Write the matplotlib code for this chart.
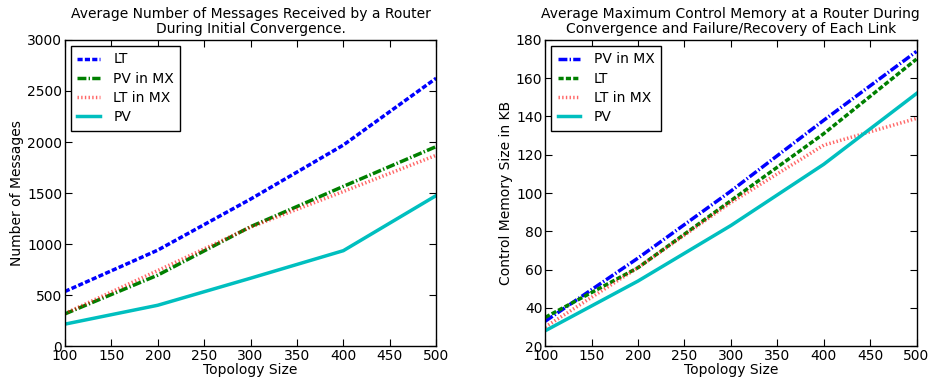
import matplotlib
matplotlib.use('Agg')
import matplotlib.pyplot as plt

# topology sizes
sizes = [100, 200, 300, 400, 500]

# left: messages received during initial convergence
msg_lt = [535, 940, 1440, 1970, 2625]
msg_pv_mx = [315, 695, 1170, 1565, 1955]
msg_lt_mx = [320, 740, 1165, 1515, 1870]
msg_pv = [215, 400, 665, 935, 1475]

# right: control memory (KB)
mem_pv_mx = [33, 66, 101, 138, 174]
mem_lt = [35, 61, 96, 131, 170]
mem_lt_mx = [30, 61, 95, 125, 139]
mem_pv = [28, 54, 83, 115, 152]

FS = 10


def StyleAxes(ax):
    """ ticks a l'interieur, sur les quatre cotes """
    ax.tick_params(direction='in', top=True, right=True, length=5, labelsize=FS, pad=2)
    for s in ax.spines.values():
        s.set_linewidth(1.0)


def MakeLegend(ax):
    """ legende en haut a gauche, cadre noir """
    ax.legend(loc='upper left', fontsize=FS, handlelength=1.6, fancybox=False,
              edgecolor='black', framealpha=1, borderpad=0.45, labelspacing=0.38,
              handletextpad=1.0, borderaxespad=0.45)


plt.rcParams['font.family'] = 'DejaVu Sans'
plt.rcParams['lines.scale_dashes'] = False
fig = plt.figure(figsize=(9.4, 3.77), dpi=100)
fig.patch.set_facecolor('white')

ax1 = fig.add_axes([0.069, 0.082, 0.395, 0.812])
ax1.plot(sizes, msg_lt, color='b', linestyle='--', lw=2.5, label='LT')
ax1.plot(sizes, msg_pv_mx, color='g', linestyle='-.', lw=2.5, label='PV in MX')
ax1.plot(sizes, msg_lt_mx, color='r', linestyle=':', lw=2.5, alpha=0.6, label='LT in MX')
ax1.plot(sizes, msg_pv, color='c', linestyle='-', lw=2.5, label='PV')
ax1.set_xlim(100, 500)
ax1.set_ylim(0, 3000)
ax1.set_xticks(range(100, 501, 50))
ax1.set_yticks(range(0, 3001, 500))
ax1.set_xlabel('Topology Size', fontsize=FS, labelpad=0)
ax1.set_ylabel('Number of Messages', fontsize=FS, labelpad=2)
ax1.set_title('Average Number of Messages Received by a Router\nDuring Initial Convergence.',
              fontsize=FS, linespacing=1.05, pad=5)
StyleAxes(ax1)
MakeLegend(ax1)

ax2 = fig.add_axes([0.580, 0.082, 0.395, 0.812])
ax2.plot(sizes, mem_pv_mx, color='b', linestyle='-.', lw=2.5, label='PV in MX')
ax2.plot(sizes, mem_lt, color='g', linestyle='--', lw=2.5, label='LT')
ax2.plot(sizes, mem_lt_mx, color='r', linestyle=':', lw=2.5, alpha=0.6, label='LT in MX')
ax2.plot(sizes, mem_pv, color='c', linestyle='-', lw=2.5, label='PV')
ax2.set_xlim(100, 500)
ax2.set_ylim(20, 180)
ax2.set_xticks(range(100, 501, 50))
ax2.set_yticks(range(20, 181, 20))
ax2.set_xlabel('Topology Size', fontsize=FS, labelpad=0)
ax2.set_ylabel('Control Memory Size in KB', fontsize=FS, labelpad=2)
ax2.set_title('Average Maximum Control Memory at a Router During\nConvergence and Failure/Recovery of Each Link',
              fontsize=FS, linespacing=1.05, pad=5)
StyleAxes(ax2)
MakeLegend(ax2)

fig.savefig('out.png', dpi=100, facecolor='white')
